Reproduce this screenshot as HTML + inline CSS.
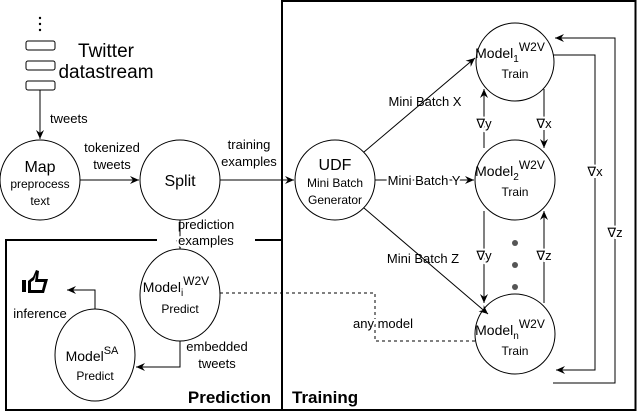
<!DOCTYPE html>
<html><head><meta charset="utf-8"><style>
html,body{margin:0;padding:0;background:#fff;}
svg{display:block;font-family:"Liberation Sans",Arial,sans-serif;}
</style></head><body>
<svg width="637" height="412" viewBox="0 0 637 412" xmlns="http://www.w3.org/2000/svg">
<defs>
<marker id="a" markerWidth="10" markerHeight="10" refX="9" refY="5" orient="auto" markerUnits="userSpaceOnUse">
<path d="M0,1 L9,5 L0,9 L3,5 Z" fill="#000"/>
</marker>
</defs>
<g fill="none" stroke="#000" stroke-width="1">
<rect x="282" y="1" width="353.5" height="409" stroke-width="2"/>
<path d="M255,240 H282 M157,240 H6 V410 H282" stroke-width="2"/>
<rect x="26" y="41" width="29" height="9" rx="2"/>
<rect x="26" y="61" width="29" height="9" rx="2"/>
<rect x="26" y="81" width="29" height="9" rx="2"/>
<circle cx="40" cy="180" r="40"/>
<circle cx="180" cy="180" r="40"/>
<circle cx="335" cy="180" r="40"/>
<circle cx="515" cy="62" r="39"/>
<circle cx="515" cy="180" r="40"/>
<circle cx="515" cy="334" r="40"/>
<ellipse cx="180" cy="295" rx="40" ry="46"/>
<ellipse cx="95" cy="355" rx="40" ry="46"/>
<path d="M40,90 V139" marker-end="url(#a)"/>
<path d="M80,180 H139" marker-end="url(#a)"/>
<path d="M220,180 H294" marker-end="url(#a)"/>
<path d="M364,152 L475,58" marker-end="url(#a)"/>
<path d="M375,180 H474" marker-end="url(#a)"/>
<path d="M364,208 L488,314" marker-end="url(#a)"/>
<path d="M484,148 V89" marker-end="url(#a)"/>
<path d="M544,89 V148" marker-end="url(#a)"/>
<path d="M484,211 V303" marker-end="url(#a)"/>
<path d="M544,303 V211" marker-end="url(#a)"/>
<path d="M553,55 H595 V370 H556" marker-end="url(#a)"/>
<path d="M553,383 H615 V38 H555" marker-end="url(#a)"/>
<path d="M180,220 V249" marker-end="url(#a)"/>
<path d="M180,341 V367 H136" marker-end="url(#a)"/>
<path d="M95,309 V290 H67" marker-end="url(#a)"/>
<path d="M220,293 H375 V341 H475" stroke-dasharray="3,3"/>
</g>
<g fill="#000">
<circle cx="40" cy="18" r="1.2"/><circle cx="40" cy="24" r="1.2"/><circle cx="40" cy="30" r="1.2"/>
</g>
<g fill="#555">
<circle cx="515" cy="243" r="3"/><circle cx="515" cy="265" r="3"/><circle cx="515" cy="287" r="3"/>
</g>
<g fill="#000">
<rect x="22" y="280" width="4" height="12"/>
<path d="M28,281 L33,277 L36,270 L39,271 L38,279 L48,279 L44,293 L28,293 Z M31,282 V290 H42 L44,282 H35 L36,274 L34,280 Z" fill-rule="evenodd"/>
</g>
<g fill="#000" text-anchor="middle">
<text x="106" y="57" font-size="19">Twitter</text>
<text x="106" y="78" font-size="19">datastream</text>
<text x="50" y="123" font-size="13" text-anchor="start">tweets</text>
<text x="112" y="152" font-size="13">tokenized</text>
<text x="112" y="169" font-size="13">tweets</text>
<text x="249" y="149" font-size="13">training</text>
<text x="249" y="166" font-size="13">examples</text>
<text x="40" y="172" font-size="16">Map</text>
<text x="40" y="188" font-size="12">preprocess</text>
<text x="40" y="205" font-size="12">text</text>
<text x="180" y="186" font-size="16">Split</text>
<text x="335" y="170" font-size="16">UDF</text>
<text x="335" y="187" font-size="12">Mini Batch</text>
<text x="335" y="204" font-size="12">Generator</text>
<text x="425" y="106" font-size="13">Mini Batch X</text>
<text x="424" y="185" font-size="13" style="paint-order:stroke" stroke="#fff" stroke-width="4">Mini Batch Y</text>
<text x="423" y="263" font-size="13">Mini Batch Z</text>
<text x="510" y="58" font-size="14">Model<tspan font-size="10" dy="4">1</tspan><tspan font-size="12" dy="-11">W2V</tspan></text>
<text x="515" y="78" font-size="12">Train</text>
<text x="510" y="176" font-size="14">Model<tspan font-size="10" dy="4">2</tspan><tspan font-size="12" dy="-11">W2V</tspan></text>
<text x="515" y="196" font-size="12">Train</text>
<text x="510" y="335" font-size="14">Model<tspan font-size="10" dy="4">n</tspan><tspan font-size="12" dy="-11">W2V</tspan></text>
<text x="515" y="355" font-size="12">Train</text>
<text x="484" y="128" font-size="13" style="paint-order:stroke" stroke="#fff" stroke-width="4">∇y</text>
<text x="544" y="128" font-size="13" style="paint-order:stroke" stroke="#fff" stroke-width="4">∇x</text>
<text x="484" y="260" font-size="13" style="paint-order:stroke" stroke="#fff" stroke-width="4">∇y</text>
<text x="544" y="260" font-size="13" style="paint-order:stroke" stroke="#fff" stroke-width="4">∇z</text>
<text x="595" y="176" font-size="13" style="paint-order:stroke" stroke="#fff" stroke-width="4">∇x</text>
<text x="615" y="237" font-size="13" style="paint-order:stroke" stroke="#fff" stroke-width="4">∇z</text>
<text x="383" y="328" font-size="13" style="paint-order:stroke" stroke="#fff" stroke-width="4">any model</text>
<text x="206" y="229" font-size="13">prediction</text>
<text x="206" y="245" font-size="13" style="paint-order:stroke" stroke="#fff" stroke-width="4">examples</text>
<text x="176" y="292" font-size="14">Model<tspan font-size="10" dy="4">i</tspan><tspan font-size="12" dy="-11">W2V</tspan></text>
<text x="180" y="313" font-size="12">Predict</text>
<text x="217" y="351" font-size="13">embedded</text>
<text x="217" y="368" font-size="13">tweets</text>
<text x="92" y="361" font-size="14">Model<tspan font-size="11" dy="-7">SA</tspan></text>
<text x="95" y="380" font-size="12">Predict</text>
<text x="40" y="318" font-size="13">inference</text>
<text x="271" y="403" font-size="17" font-weight="bold" text-anchor="end">Prediction</text>
<text x="292" y="403" font-size="17" font-weight="bold" text-anchor="start">Training</text>
</g>
</svg>
</body></html>
